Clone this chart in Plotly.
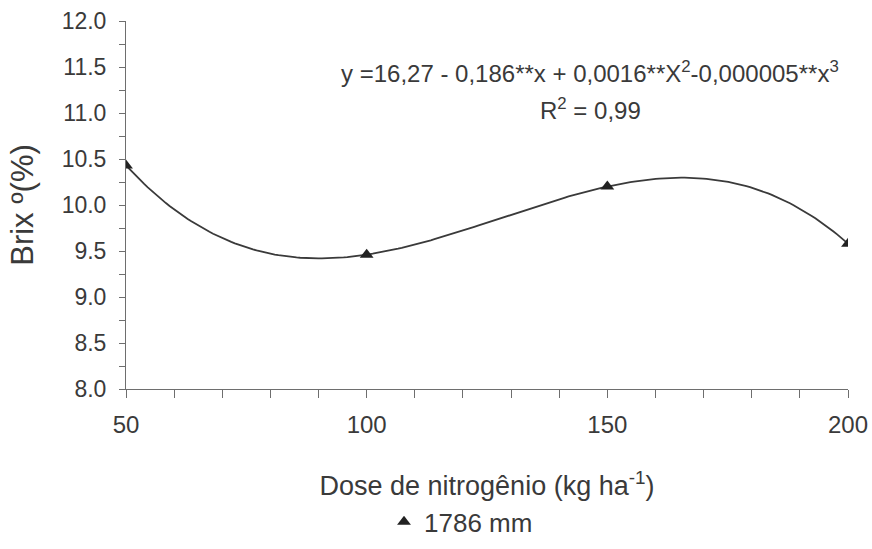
import numpy as np
import plotly.graph_objects as go

# Nitrogen dose (kg/ha) and measured Brix (%)
doses = [50, 100, 150, 200]
brix = [10.43, 9.46, 10.20, 9.58]

x_ticks = [50, 100, 150, 200]
y_ticks = [8.0, 8.5, 9.0, 9.5, 10.0, 10.5, 11.0, 11.5, 12.0]
series_name = "1786 mm"

# Third-degree regression curve through the observations
coef = np.polyfit(doses, brix, 3)
xs = np.linspace(min(doses), max(doses), 200)
ys = np.polyval(coef, xs)

FONT = "Liberation Sans, Arial, sans-serif"
TEXT_COLOR = "#3a3a3a"
AXIS_COLOR = "#6e6e6e"

fig = go.Figure()
fig.add_trace(go.Scatter(
    x=xs, y=ys, mode="lines",
    line=dict(color="#3a3a3a", width=1.8),
    showlegend=False, hoverinfo="skip",
))
fig.add_trace(go.Scatter(
    x=doses, y=brix, mode="markers", name=series_name,
    marker=dict(symbol="triangle-up", size=12, color="#222222"),
))

eq_x = 0.643
fig.add_annotation(
    x=eq_x, xref="paper", xanchor="center",
    y=0.862, yref="paper", yanchor="middle",
    text="y =16,27 - 0,186**x + 0,0016**X<sup>2</sup>-0,000005**x<sup>3</sup>",
    showarrow=False, font=dict(family=FONT, size=24, color=TEXT_COLOR),
)
fig.add_annotation(
    x=eq_x, xref="paper", xanchor="center",
    y=0.762, yref="paper", yanchor="middle",
    text="R<sup>2</sup> = 0,99",
    showarrow=False, font=dict(family=FONT, size=24, color=TEXT_COLOR),
)

fig.update_layout(
    width=872, height=549,
    margin=dict(l=126, r=24, t=21, b=160, autoexpand=False),
    paper_bgcolor="white", plot_bgcolor="white",
    font=dict(family=FONT, size=22, color=TEXT_COLOR),
    legend=dict(
        orientation="h", x=0.464, xanchor="center", y=-0.361, yanchor="middle",
        font=dict(family=FONT, size=26, color=TEXT_COLOR),
        itemsizing="constant", itemwidth=30,
    ),
)

fig.update_xaxes(
    range=[50, 200], tickvals=x_ticks, ticktext=[str(v) for v in x_ticks],
    showgrid=False, zeroline=False, automargin=False,
    showline=True, linecolor=AXIS_COLOR, linewidth=1,
    ticks="outside", ticklen=8, tickcolor=AXIS_COLOR,
    minor=dict(dtick=10, ticks="outside", ticklen=8, tickcolor=AXIS_COLOR, showgrid=False),
    tickfont=dict(size=24), ticklabelstandoff=6,
    title=dict(text="Dose de nitrogênio (kg ha<sup>-1</sup>)", font=dict(size=27), standoff=39),
)
fig.update_yaxes(
    range=[8.0, 12.0], tickvals=y_ticks, ticktext=[f"{v:.1f}" for v in y_ticks],
    showgrid=False, zeroline=False, automargin=False,
    showline=True, linecolor=AXIS_COLOR, linewidth=1,
    ticks="outside", ticklen=6, tickcolor=AXIS_COLOR,
    minor=dict(dtick=0.25, ticks="outside", ticklen=6, tickcolor=AXIS_COLOR, showgrid=False),
    tickfont=dict(size=23), ticklabelstandoff=8,
    title=dict(text="Brix º(%)", font=dict(size=31), standoff=18),
)

fig.write_html("out.html")
